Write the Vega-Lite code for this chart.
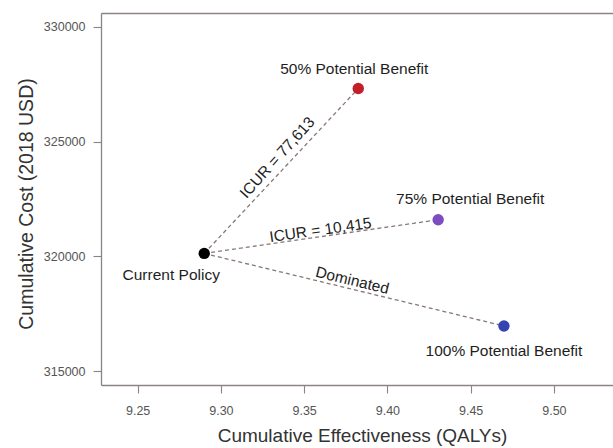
{
  "$schema": "https://vega.github.io/schema/vega-lite/v6.json",
  "width": 512,
  "height": 372,
  "autosize": {"type": "none"},
  "padding": {"left": 101, "top": 13, "right": 0, "bottom": 63},
  "background": "white",
  "config": {
    "view": {"stroke": null},
    "font": "Liberation Sans",
    "axis": {
      "grid": false,
      "domainColor": "#8c8484",
      "domainWidth": 1.3,
      "tickColor": "#8c8484",
      "tickWidth": 1.1,
      "tickSize": 8,
      "labelFont": "Liberation Sans",
      "labelFontSize": 12.5,
      "labelColor": "#555555",
      "titleFont": "Liberation Sans",
      "titleFontWeight": "normal",
      "titleColor": "#333333"
    }
  },
  "datasets": {
    "strategies": [
      {"strategy": "Current Policy", "qaly": 9.29, "cost": 320130},
      {"strategy": "50% Potential Benefit", "qaly": 9.3825, "cost": 327310},
      {"strategy": "75% Potential Benefit", "qaly": 9.4305, "cost": 321595},
      {"strategy": "100% Potential Benefit", "qaly": 9.47, "cost": 316970}
    ],
    "comparisons": [
      {"strategy": "50% Potential Benefit", "qaly_from": 9.29, "cost_from": 320130, "qaly_to": 9.3825, "cost_to": 327310},
      {"strategy": "75% Potential Benefit", "qaly_from": 9.29, "cost_from": 320130, "qaly_to": 9.4305, "cost_to": 321595},
      {"strategy": "100% Potential Benefit", "qaly_from": 9.29, "cost_from": 320130, "qaly_to": 9.47, "cost_to": 316970}
    ],
    "icur_labels": [
      {"strategy": "50% Potential Benefit", "label": "ICUR = 77,613", "qaly": 9.335, "cost": 324233},
      {"strategy": "75% Potential Benefit", "label": "ICUR = 10,415", "qaly": 9.36, "cost": 321041},
      {"strategy": "100% Potential Benefit", "label": "Dominated", "qaly": 9.3786, "cost": 318846}
    ]
  },
  "resolve": {"axis": {"x": "independent"}},
  "layer": [
    {
      "data": {"name": "comparisons"},
      "mark": {"type": "rule", "strokeDash": [4, 3], "strokeWidth": 1.3, "color": "#877878"},
      "encoding": {
        "x": {
          "field": "qaly_from",
          "type": "quantitative",
          "scale": {"domain": [9.228, 9.5355], "nice": false, "zero": false},
          "axis": {
            "values": [9.25, 9.3, 9.35, 9.4, 9.45, 9.5],
            "format": ".2f",
            "labelPadding": 11,
            "title": "Cumulative Effectiveness (QALYs)",
            "titleFontSize": 19,
            "titleBaseline": "alphabetic",
            "titleX": 261,
            "titleY": 56
          }
        },
        "y": {
          "field": "cost_from",
          "type": "quantitative",
          "scale": {"domain": [314400, 330600], "nice": false, "zero": false},
          "axis": {
            "values": [315000, 320000, 325000, 330000],
            "format": "d",
            "labelPadding": 8,
            "title": "Cumulative Cost (2018 USD)",
            "titleFontSize": 19.5,
            "titleAngle": -90,
            "titleAlign": "center",
            "titleBaseline": "alphabetic",
            "titleX": -68.5,
            "titleY": 190.5
          }
        },
        "x2": {"field": "qaly_to"},
        "y2": {"field": "cost_to"}
      }
    },
    {
      "data": {"name": "strategies"},
      "mark": {"type": "circle", "size": 130, "opacity": 1},
      "encoding": {
        "x": {
          "field": "qaly",
          "type": "quantitative",
          "axis": {"orient": "top", "labels": false, "ticks": false, "title": null, "domain": true}
        },
        "y": {"field": "cost", "type": "quantitative"},
        "color": {
          "field": "strategy",
          "type": "nominal",
          "scale": {
            "domain": ["Current Policy", "50% Potential Benefit", "75% Potential Benefit", "100% Potential Benefit"],
            "range": ["#000000", "#c21f2b", "#7c4dc0", "#3443b0"]
          },
          "legend": null
        }
      }
    },
    {
      "data": {"name": "strategies"},
      "transform": [{"filter": "datum.strategy === 'Current Policy'"}],
      "mark": {"type": "text", "fontSize": 15.5, "color": "#1e1e1e", "align": "center", "baseline": "alphabetic", "dx": -33, "dy": 27},
      "encoding": {
        "x": {"field": "qaly", "type": "quantitative", "axis": null},
        "y": {"field": "cost", "type": "quantitative"},
        "text": {"field": "strategy"}
      }
    },
    {
      "data": {"name": "strategies"},
      "transform": [{"filter": "datum.strategy === '50% Potential Benefit'"}],
      "mark": {"type": "text", "fontSize": 15.5, "color": "#1e1e1e", "align": "center", "baseline": "alphabetic", "dx": -4, "dy": -15},
      "encoding": {
        "x": {"field": "qaly", "type": "quantitative", "axis": null},
        "y": {"field": "cost", "type": "quantitative"},
        "text": {"field": "strategy"}
      }
    },
    {
      "data": {"name": "strategies"},
      "transform": [{"filter": "datum.strategy === '75% Potential Benefit'"}],
      "mark": {"type": "text", "fontSize": 15.5, "color": "#1e1e1e", "align": "center", "baseline": "alphabetic", "dx": 32, "dy": -15.5},
      "encoding": {
        "x": {"field": "qaly", "type": "quantitative", "axis": null},
        "y": {"field": "cost", "type": "quantitative"},
        "text": {"field": "strategy"}
      }
    },
    {
      "data": {"name": "strategies"},
      "transform": [{"filter": "datum.strategy === '100% Potential Benefit'"}],
      "mark": {"type": "text", "fontSize": 15.5, "color": "#1e1e1e", "align": "center", "baseline": "alphabetic", "dx": 0, "dy": 30.5},
      "encoding": {
        "x": {"field": "qaly", "type": "quantitative", "axis": null},
        "y": {"field": "cost", "type": "quantitative"},
        "text": {"field": "strategy"}
      }
    },
    {
      "data": {"name": "icur_labels"},
      "transform": [{"filter": "datum.strategy === '50% Potential Benefit'"}],
      "mark": {"type": "text", "fontSize": 15.5, "color": "#1e1e1e", "align": "center", "baseline": "middle", "angle": -48, "dy": -2.5},
      "encoding": {
        "x": {"field": "qaly", "type": "quantitative", "axis": null},
        "y": {"field": "cost", "type": "quantitative"},
        "text": {"field": "label"}
      }
    },
    {
      "data": {"name": "icur_labels"},
      "transform": [{"filter": "datum.strategy === '75% Potential Benefit'"}],
      "mark": {"type": "text", "fontSize": 15.5, "color": "#1e1e1e", "align": "center", "baseline": "middle", "angle": -8, "dy": -2.5},
      "encoding": {
        "x": {"field": "qaly", "type": "quantitative", "axis": null},
        "y": {"field": "cost", "type": "quantitative"},
        "text": {"field": "label"}
      }
    },
    {
      "data": {"name": "icur_labels"},
      "transform": [{"filter": "datum.strategy === '100% Potential Benefit'"}],
      "mark": {"type": "text", "fontSize": 15.5, "color": "#1e1e1e", "align": "center", "baseline": "middle", "angle": 13.6, "dy": -2.5},
      "encoding": {
        "x": {"field": "qaly", "type": "quantitative", "axis": null},
        "y": {"field": "cost", "type": "quantitative"},
        "text": {"field": "label"}
      }
    }
  ]
}
